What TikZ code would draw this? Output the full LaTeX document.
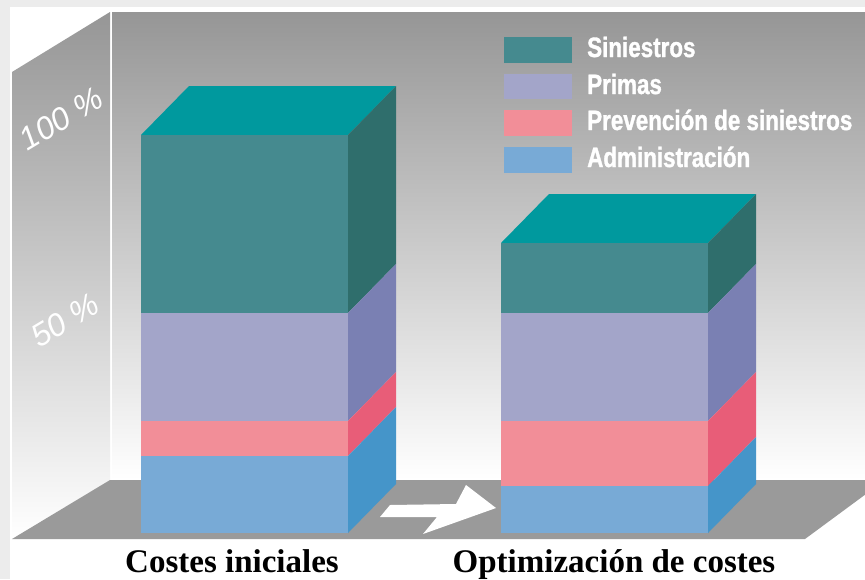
\documentclass[tikz,border=0pt]{standalone}
\usepackage{fontspec}
\usetikzlibrary{calc}
\newfontfamily\legendfont[FakeStretch=0.8,FakeBold=1.2]{Liberation Sans Bold}
\newfontfamily\pctfont{Liberation Sans}
\newfontfamily\barfont{Liberation Serif}
\definecolor{outer}{HTML}{ECECEC}
\definecolor{wall}{HTML}{969696}
\definecolor{wallmid}{HTML}{B2B2B2}
\definecolor{floor}{HTML}{9A9A9A}
\definecolor{sinfront}{HTML}{458A8F}
\definecolor{sintop}{HTML}{00999E}
\definecolor{sinside}{HTML}{2F6E6C}
\definecolor{primfront}{HTML}{A3A5C9}
\definecolor{primside}{HTML}{7A80B3}
\definecolor{prevfront}{HTML}{F28E98}
\definecolor{prevside}{HTML}{E85D78}
\definecolor{admfront}{HTML}{78AAD6}
\definecolor{admside}{HTML}{4595C9}

\begin{document}
\begin{tikzpicture}[x=1pt,y=-1pt,
  legendtext/.style={anchor=base west,inner sep=0pt,text=white,
    font=\legendfont\fontsize{28}{30}\selectfont},
  pct/.style={inner sep=0pt,text=white,rotate=31,
    font=\pctfont\itshape\fontsize{32}{34}\selectfont},
  barlabel/.style={anchor=base,inner sep=0pt,
    font=\barfont\bfseries\fontsize{33}{36}\selectfont}]
\useasboundingbox (0,0) rectangle (865,579);
\fill[outer] (0,0) rectangle (865,579);
\fill[white] (10,7) rectangle (865,579);

\shade[top color=wall,middle color=wallmid,bottom color=white] (112,12) rectangle (865,480);
\shade[top color=wall,middle color=wallmid,bottom color=white] (12,72) -- (110,12) -- (110,480) -- (12,539) -- cycle;
\begin{scope}
\clip (0,0) rectangle (865,579);
\fill[floor] (12,539) -- (110,480) -- (885,480) -- (805,539) -- cycle;
\end{scope}

\node[pct] (cien) at (61,119) {100 \%};
\node[pct] (cincuenta) at (65,320) {50 \%};

\fill[sintop] (141,135) -- (189,86) -- (396,86) -- (348,135) -- cycle;
\fill[sinfront] (141,135) rectangle (348,313);
\fill[sinside] (348,135) -- (396,86) -- (396,264) -- (348,313) -- cycle;
\fill[primfront] (141,313) rectangle (348,421);
\fill[primside] (348,313) -- (396,264) -- (396,372) -- (348,421) -- cycle;
\fill[prevfront] (141,421) rectangle (348,456);
\fill[prevside] (348,421) -- (396,372) -- (396,407) -- (348,456) -- cycle;
\fill[admfront] (141,456) rectangle (348,533);
\fill[admside] (348,456) -- (396,407) -- (396,484) -- (348,533) -- cycle;

\fill[sintop] (501,243) -- (549,194) -- (756,194) -- (708,243) -- cycle;
\fill[sinfront] (501,243) rectangle (708,313);
\fill[sinside] (708,243) -- (756,194) -- (756,264) -- (708,313) -- cycle;
\fill[primfront] (501,313) rectangle (708,421);
\fill[primside] (708,313) -- (756,264) -- (756,372) -- (708,421) -- cycle;
\fill[prevfront] (501,421) rectangle (708,486);
\fill[prevside] (708,421) -- (756,372) -- (756,437) -- (708,486) -- cycle;
\fill[admfront] (501,486) rectangle (708,533);
\fill[admside] (708,486) -- (756,437) -- (756,484) -- (708,533) -- cycle;

\fill[white] (390,505) -- (456,504) -- (466,485) -- (496,508) -- (423,534) -- (437,517) -- (380,517) -- cycle;

\fill[sinfront] (504,37) rectangle (572,63);
\fill[primfront] (504,74) rectangle (572,99);
\fill[prevfront] (504,110) rectangle (572,136);
\fill[admfront] (504,147) rectangle (572,173);
\node[legendtext] (siniestros) at (587,57) {Siniestros};
\node[legendtext] (primas) at (587,94) {Primas};
\node[legendtext] (prevencion) at (587,130) {Prevención de siniestros};
\node[legendtext] (administracion) at (587,167) {Administración};

\node[barlabel] (iniciales) at (232,572) {Costes iniciales};
\node[barlabel] (optimizacion) at (614,572) {Optimización de costes};
\end{tikzpicture}
\end{document}
